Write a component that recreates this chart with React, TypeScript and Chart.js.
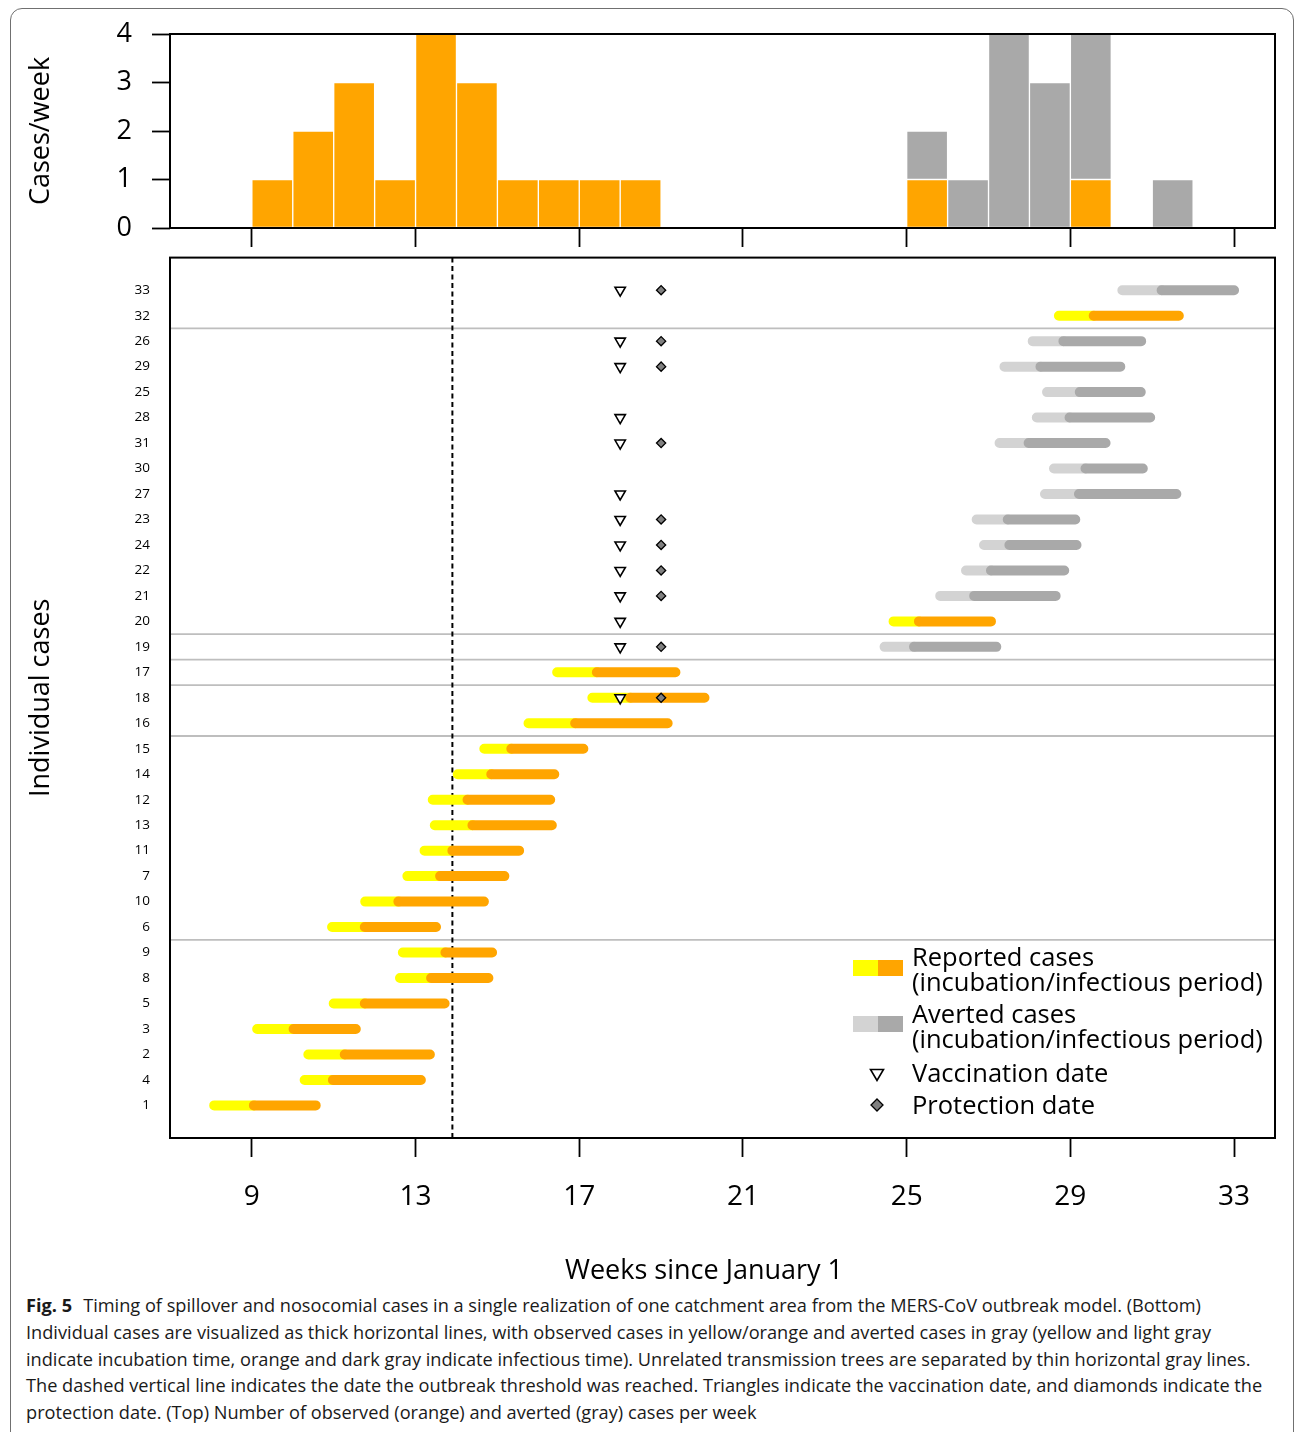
import React, { useEffect, useRef } from "react";
import { Chart, registerables } from "chart.js";

Chart.register(...registerables);

const FONT = "'Open Sans', 'Noto Sans', 'DejaVu Sans', sans-serif";

// ---------------- Top panel: cases per week (by week of infectious onset) ----------------
const weekStarts = [9, 10, 11, 12, 13, 14, 15, 16, 17, 18, 19, 20, 21, 22, 23, 24, 25, 26, 27, 28, 29, 30, 31];
const reportedPerWeek = [1, 2, 3, 1, 4, 3, 1, 1, 1, 1, 0, 0, 0, 0, 0, 0, 1, 0, 0, 0, 1, 0, 0];
const avertedPerWeek = [0, 0, 0, 0, 0, 0, 0, 0, 0, 0, 0, 0, 0, 0, 0, 0, 1, 1, 4, 3, 3, 0, 1];
const countTicks = [0, 1, 2, 3, 4];
const weekTicks = [9, 13, 17, 21, 25, 29, 33];
const weekDataRange = [8, 33];

// ---------------- Bottom panel: individual cases (bottom row first) ----------------
const caseIds = [1, 4, 2, 3, 5, 8, 9, 6, 10, 7, 11, 13, 12, 14, 15, 16, 18, 17, 19, 20, 21, 22, 24, 23, 27, 30, 31, 28, 25, 29, 26, 32, 33];
const incubationStart = [8.08, 10.29, 10.38, 9.13, 11.0, 12.62, 12.69, 10.96, 11.77, 12.8, 13.22, 13.47, 13.42, 14.03, 14.68, 15.76, 17.32, 16.46, 24.46, 24.68, 25.82, 26.45, 26.89, 26.71, 28.38, 28.6, 27.27, 28.18, 28.43, 27.39, 28.08, 28.72, 30.27];
const infectiousStart = [9.05, 10.98, 11.27, 10.02, 11.76, 13.38, 13.73, 11.76, 12.58, 13.6, 13.9, 14.39, 14.27, 14.85, 15.34, 16.9, 18.25, 17.43, 25.18, 25.3, 26.65, 27.06, 27.51, 27.47, 29.21, 29.37, 27.98, 28.98, 29.23, 28.27, 28.83, 29.57, 31.23];
const infectiousEnd = [10.56, 13.13, 13.35, 11.54, 13.71, 14.78, 14.87, 13.5, 14.67, 15.17, 15.53, 16.33, 16.29, 16.39, 17.1, 19.16, 20.06, 19.35, 27.19, 27.06, 28.64, 28.85, 29.15, 29.12, 31.59, 30.77, 29.86, 30.95, 30.72, 30.22, 30.73, 31.65, 33.0];
const caseAverted = [0, 0, 0, 0, 0, 0, 0, 0, 0, 0, 0, 0, 0, 0, 0, 0, 0, 0, 1, 0, 1, 1, 1, 1, 1, 1, 1, 1, 1, 1, 1, 0, 1];
const vaccinatedCases = [33, 26, 29, 28, 31, 27, 23, 24, 22, 21, 20, 19, 18];
const protectedCases = [33, 26, 29, 31, 23, 24, 22, 21, 19, 18];
const vaccinationWeek = 18.0;
const protectionWeek = 19.0;
const thresholdWeek = 13.9;
const treeBreaksAfterRow = [7, 15, 17, 18, 19, 31];

// axis ranges (R style 4% extension)
const X_EXT = 0.04 * (weekDataRange[1] - weekDataRange[0]);
const X_MIN = weekDataRange[0] - X_EXT;
const X_MAX = weekDataRange[1] + X_EXT;
const Y_EXT = 0.04 * (caseIds.length - 1);
const Y_MIN = 1 - Y_EXT;
const Y_MAX = caseIds.length + Y_EXT;

const ORANGE = "#FFA500";
const YELLOW = "#FFFF00";
const LIGHTGRAY = "#D3D3D3";
const DARKGRAY = "#A9A9A9";

const rowOf = (id: number) => caseIds.indexOf(id) + 1;

function segments(from: number[], to: number[], keep: (i: number) => boolean) {
  const pts: any[] = [];
  caseIds.forEach((_, i) => {
    if (!keep(i)) return;
    const y = i + 1;
    pts.push({ x: from[i], y }, { x: to[i], y }, { x: to[i], y: null });
  });
  return pts;
}

const boxPlugin = {
  id: "plotBox",
  afterDatasetsDraw(chart: any) {
    const { ctx, chartArea } = chart;
    ctx.save();
    ctx.strokeStyle = "#000";
    ctx.lineWidth = 2;
    ctx.strokeRect(chartArea.left, chartArea.top, chartArea.right - chartArea.left, chartArea.bottom - chartArea.top);
    ctx.restore();
  },
};

const fixWidth = (w: number) => (s: any) => {
  s.width = w;
  s.paddingTop = 0;
  s.paddingBottom = 0;
};
const fixHeight = (h: number) => (s: any) => {
  s.height = h;
  s.paddingLeft = 0;
  s.paddingRight = 0;
};

function topConfig(): any {
  const barCommon = {
    borderColor: "#ffffff",
    borderWidth: 1,
    borderSkipped: false,
    barPercentage: 1,
    categoryPercentage: 1,
    stack: "weekly",
  };
  return {
    type: "bar",
    data: {
      datasets: [
        {
          ...barCommon,
          label: "Reported",
          backgroundColor: ORANGE,
          data: weekStarts.map((w, i) => ({ x: w + 0.5, y: reportedPerWeek[i] || null })),
        },
        {
          ...barCommon,
          label: "Averted",
          backgroundColor: DARKGRAY,
          data: weekStarts.map((w, i) => ({ x: w + 0.5, y: avertedPerWeek[i] || null })),
        },
      ],
    },
    options: {
      responsive: false,
      animation: false,
      events: [],
      layout: { padding: { left: 0, right: 20, top: 34, bottom: 0 } },
      plugins: { legend: { display: false }, tooltip: { enabled: false } },
      scales: {
        x: {
          type: "linear",
          min: X_MIN,
          max: X_MAX,
          stacked: true,
          offset: false,
          afterBuildTicks: (s: any) => {
            s.ticks = weekTicks.map((v) => ({ value: v }));
          },
          afterFit: fixHeight(22),
          grid: { offset: false, drawOnChartArea: false, drawTicks: true, tickLength: 19, tickColor: "#000", tickWidth: 1.8 },
          border: { display: false },
          ticks: { callback: () => "", font: { size: 1 }, padding: 0, autoSkip: false, maxRotation: 0 },
        },
        y: {
          type: "linear",
          min: 0,
          max: 4,
          stacked: true,
          afterBuildTicks: (s: any) => {
            s.ticks = countTicks.map((v) => ({ value: v }));
          },
          afterFit: fixWidth(170),
          grid: { drawOnChartArea: false, drawTicks: true, tickLength: 18, tickColor: "#000", tickWidth: 1.8 },
          border: { display: false },
          ticks: { color: "#000", padding: 20, font: { family: FONT, size: 27 }, autoSkip: false },
          title: {
            display: true,
            text: "Cases/week",
            color: "#000",
            font: { family: FONT, size: 27 },
            padding: { top: 25, bottom: 0 },
          },
        },
      },
    },
    plugins: [boxPlugin],
  };
}

function bottomConfig(): any {
  const lineCommon = {
    borderWidth: 10,
    borderCapStyle: "round",
    pointRadius: 0,
    fill: false,
    tension: 0,
  };
  return {
    type: "line",
    data: {
      datasets: [
        {
          label: "Vaccination date",
          data: vaccinatedCases.map((id) => ({ x: vaccinationWeek, y: rowOf(id) })),
          showLine: false,
          pointStyle: "triangle",
          pointRotation: 180,
          pointRadius: 6,
          pointBackgroundColor: "#ffffff",
          pointBorderColor: "#000000",
          pointBorderWidth: 1.6,
          order: 0,
        },
        {
          label: "Protection date",
          data: protectedCases.map((id) => ({ x: protectionWeek, y: rowOf(id) })),
          showLine: false,
          pointStyle: "rectRot",
          pointRadius: 4.6,
          pointBackgroundColor: "#808080",
          pointBorderColor: "#000000",
          pointBorderWidth: 1.3,
          order: 0,
        },
        {
          ...lineCommon,
          label: "Reported cases (infectious)",
          data: segments(infectiousStart, infectiousEnd, (i) => !caseAverted[i]),
          borderColor: ORANGE,
          order: 1,
        },
        {
          ...lineCommon,
          label: "Averted cases (infectious)",
          data: segments(infectiousStart, infectiousEnd, (i) => !!caseAverted[i]),
          borderColor: DARKGRAY,
          order: 1,
        },
        {
          ...lineCommon,
          label: "Reported cases (incubation)",
          data: segments(incubationStart, infectiousStart, (i) => !caseAverted[i]),
          borderColor: YELLOW,
          order: 2,
        },
        {
          ...lineCommon,
          label: "Averted cases (incubation)",
          data: segments(incubationStart, infectiousStart, (i) => !!caseAverted[i]),
          borderColor: LIGHTGRAY,
          order: 2,
        },
        {
          label: "Outbreak threshold",
          data: [
            { x: thresholdWeek, y: Y_MIN },
            { x: thresholdWeek, y: Y_MAX },
          ],
          borderColor: "#000",
          borderWidth: 2,
          borderDash: [5, 3.5],
          pointRadius: 0,
          fill: false,
          order: 3,
        },
        {
          label: "Transmission tree separators",
          data: treeBreaksAfterRow.flatMap((r) => [
            { x: X_MIN, y: r + 0.5 },
            { x: X_MAX, y: r + 0.5 },
            { x: X_MAX, y: null },
          ]),
          borderColor: "#BEBEBE",
          borderWidth: 1.8,
          pointRadius: 0,
          fill: false,
          order: 4,
        },
      ],
    },
    options: {
      responsive: false,
      animation: false,
      events: [],
      spanGaps: false,
      layout: { padding: { left: 0, right: 20, top: 6, bottom: 0 } },
      plugins: { legend: { display: false }, tooltip: { enabled: false } },
      scales: {
        x: {
          type: "linear",
          min: X_MIN,
          max: X_MAX,
          afterBuildTicks: (s: any) => {
            s.ticks = weekTicks.map((v) => ({ value: v }));
          },
          afterFit: fixHeight(152),
          grid: { drawOnChartArea: false, drawTicks: true, tickLength: 19, tickColor: "#000", tickWidth: 1.8 },
          border: { display: false },
          ticks: { color: "#000", padding: 23, font: { family: FONT, size: 28 }, autoSkip: false, maxRotation: 0 },
        },
        y: {
          type: "linear",
          min: Y_MIN,
          max: Y_MAX,
          afterBuildTicks: (s: any) => {
            s.ticks = caseIds.map((_, i) => ({ value: i + 1 }));
          },
          afterFit: fixWidth(170),
          grid: { display: false, drawTicks: false },
          border: { display: false },
          ticks: {
            color: "#000",
            padding: 20,
            autoSkip: false,
            font: { family: FONT, size: 13.5 },
            callback: (v: any) => String(caseIds[Math.round(Number(v)) - 1] ?? ""),
          },
          title: {
            display: true,
            text: "Individual cases",
            color: "#000",
            font: { family: FONT, size: 27 },
            padding: { top: 25, bottom: 0 },
          },
        },
      },
    },
    plugins: [boxPlugin],
  };
}

const captionLines = [
  "Individual cases are visualized as thick horizontal lines, with observed cases in yellow/orange and averted cases in gray (yellow and light gray",
  "indicate incubation time, orange and dark gray indicate infectious time). Unrelated transmission trees are separated by thin horizontal gray lines.",
  "The dashed vertical line indicates the date the outbreak threshold was reached. Triangles indicate the vaccination date, and diamonds indicate the",
  "protection date. (Top) Number of observed (orange) and averted (gray) cases per week",
];

export default function App() {
  const topRef = useRef<HTMLCanvasElement>(null);
  const botRef = useRef<HTMLCanvasElement>(null);

  useEffect(() => {
    const top = new Chart(topRef.current as HTMLCanvasElement, topConfig());
    const bot = new Chart(botRef.current as HTMLCanvasElement, bottomConfig());
    return () => {
      top.destroy();
      bot.destroy();
    };
  }, []);

  const legendText: React.CSSProperties = {
    position: "absolute",
    left: 912,
    fontFamily: FONT,
    fontSize: 25.5,
    lineHeight: "25px",
    color: "#000",
    whiteSpace: "nowrap",
  };
  const abs = (l: number, t: number, w: number, h: number, bg: string): React.CSSProperties => ({
    position: "absolute",
    left: l,
    top: t,
    width: w,
    height: h,
    background: bg,
  });

  return (
    <div
      style={{
        position: "absolute",
        left: 0,
        top: 0,
        width: 1295,
        height: 1432,
        overflow: "hidden",
        background: "#fff",
        fontFamily: FONT,
      }}
    >
      <div
        style={{
          position: "absolute",
          left: 10,
          top: 8,
          width: 1284,
          height: 1460,
          border: "1.3px solid #707070",
          borderRadius: 12,
          boxSizing: "border-box",
        }}
      />
      <canvas ref={topRef} width={1295} height={250} style={{ position: "absolute", left: 0, top: 0, width: 1295, height: 250 }} />
      <canvas ref={botRef} width={1295} height={1040} style={{ position: "absolute", left: 0, top: 250, width: 1295, height: 1040 }} />

      {/* legend */}
      <div style={abs(853, 960, 25, 16, YELLOW)} />
      <div style={abs(878, 960, 25, 16, ORANGE)} />
      <div style={{ ...legendText, top: 944 }}>
        Reported cases
        <br />
        (incubation/infectious period)
      </div>
      <div style={abs(853, 1016, 25, 16, LIGHTGRAY)} />
      <div style={abs(878, 1016, 25, 16, DARKGRAY)} />
      <div style={{ ...legendText, top: 1001 }}>
        Averted cases
        <br />
        (incubation/infectious period)
      </div>
      <svg width={16} height={14} style={{ position: "absolute", left: 869, top: 1068 }}>
        <polygon points="1.5,1.5 14.5,1.5 8,12.5" fill="#fff" stroke="#000" strokeWidth={1.6} />
      </svg>
      <div style={{ ...legendText, top: 1060 }}>Vaccination date</div>
      <svg width={14} height={14} style={{ position: "absolute", left: 870, top: 1098 }}>
        <polygon points="7,1 13,7 7,13 1,7" fill="#808080" stroke="#000" strokeWidth={1.3} />
      </svg>
      <div style={{ ...legendText, top: 1092 }}>Protection date</div>

      {/* x-axis title */}
      <div
        style={{
          position: "absolute",
          left: 504,
          width: 400,
          top: 1255,
          textAlign: "center",
          fontFamily: FONT,
          fontSize: 27,
          lineHeight: "27px",
          color: "#000",
          whiteSpace: "nowrap",
        }}
      >
        Weeks since January 1
      </div>

      {/* caption */}
      <div
        style={{
          position: "absolute",
          left: 26,
          top: 1292,
          fontFamily: FONT,
          fontSize: 18.2,
          lineHeight: "26.75px",
          color: "#1a1a1a",
          whiteSpace: "nowrap",
        }}
      >
        <div>
          <b style={{ marginRight: 11 }}>Fig. 5</b>
          Timing of spillover and nosocomial cases in a single realization of one catchment area from the MERS-CoV outbreak model. (Bottom)
        </div>
        {captionLines.map((t, i) => (
          <div key={i}>{t}</div>
        ))}
      </div>
    </div>
  );
}
